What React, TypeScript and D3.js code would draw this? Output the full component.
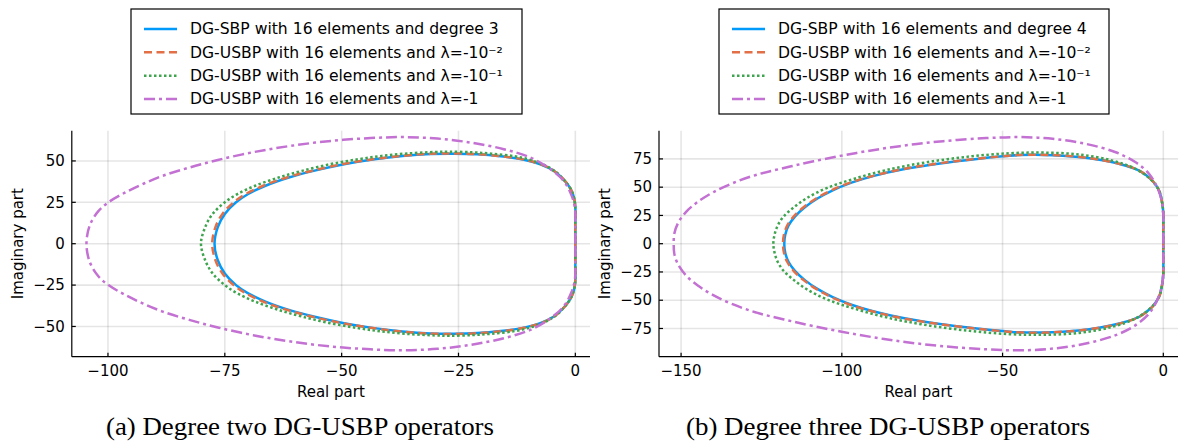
import React from "react";
import * as d3 from "d3";

type Pt = [number, number];

// legend labels
const leftLabels = [
  "DG-SBP with 16 elements and degree 3",
  "DG-USBP with 16 elements and λ=-10⁻²",
  "DG-USBP with 16 elements and λ=-10⁻¹",
  "DG-USBP with 16 elements and λ=-1",
];
const rightLabels = [
  "DG-SBP with 16 elements and degree 4",
  "DG-USBP with 16 elements and λ=-10⁻²",
  "DG-USBP with 16 elements and λ=-10⁻¹",
  "DG-USBP with 16 elements and λ=-1",
];

const leftXTicks = [-100, -75, -50, -25, 0];
const leftYTicks = [-50, -25, 0, 25, 50];
const rightXTicks = [-150, -100, -50, 0];
const rightYTicks = [-75, -50, -25, 0, 25, 50, 75];

const leftSbp: Pt[] = [
  [0, 0], [0, 12], [0, 22], [-0.3, 28], [-1.1, 33.5], [-2.6, 39], [-4.6, 44], [-7.5, 48], [-11.5, 51], [-16, 52.8],
  [-21, 54], [-26, 54.4], [-31, 54.2], [-37, 53], [-43, 51], [-49.5, 48], [-56, 44], [-61.3, 40], [-66.3, 35],
  [-70, 30], [-72.6, 25], [-75, 18], [-76.5, 10], [-77.2, 0],
  [-76.5, -10], [-75, -18], [-72.6, -25], [-70, -30], [-66.3, -35], [-61.3, -40], [-56, -44], [-49.5, -48],
  [-43, -51], [-37, -53], [-31, -54.2], [-26, -54.4], [-21, -54], [-16, -52.8], [-11.5, -51], [-7.5, -48],
  [-4.6, -44], [-2.6, -39], [-1.1, -33.5], [-0.3, -28], [0, -22], [0, -12], [0, 0],
];
const leftUsbp2: Pt[] = [
  [0, 0], [0, 12], [0, 22], [-0.3, 28], [-1.1, 33.6], [-2.6, 39.1], [-4.6, 44.1], [-7.5, 48.1], [-11.5, 51.1], [-16, 52.9],
  [-21, 54.1], [-26, 54.5], [-31, 54.3], [-37, 53.1], [-43, 51.1], [-49.7, 48.1], [-56.3, 44.1], [-61.7, 40],
  [-66.8, 35], [-70.5, 30], [-73.1, 25], [-75.5, 18], [-77, 10], [-77.7, 0],
  [-77, -10], [-75.5, -18], [-73.1, -25], [-70.5, -30], [-66.8, -35], [-61.7, -40], [-56.3, -44.1], [-49.7, -48.1],
  [-43, -51.1], [-37, -53.1], [-31, -54.3], [-26, -54.5], [-21, -54.1], [-16, -52.9], [-11.5, -51.1], [-7.5, -48.1],
  [-4.6, -44.1], [-2.6, -39.1], [-1.1, -33.6], [-0.3, -28], [0, -22], [0, -12], [0, 0],
];
const leftUsbp1: Pt[] = [
  [0, 0], [0, 12], [0, 22], [-0.3, 28], [-1.1, 33.6], [-2.6, 39], [-4, 43], [-6.3, 47], [-9.5, 50.5], [-13, 52.8],
  [-18, 54.4], [-22, 55.2], [-27, 55.6], [-30, 55.4], [-36, 54.5], [-41.5, 53], [-46.5, 51], [-52.5, 48], [-58.5, 44],
  [-63.5, 40], [-68.5, 35], [-72.3, 30], [-75, 25], [-77.6, 18], [-79.2, 10], [-80.1, 0],
  [-79.2, -10], [-77.6, -18], [-75, -25], [-72.3, -30], [-68.5, -35], [-63.5, -40], [-58.5, -44], [-52.5, -48],
  [-46.5, -51], [-41.5, -53], [-36, -54.5], [-30, -55.4], [-27, -55.6], [-22, -55.2], [-18, -54.4], [-13, -52.8],
  [-9.5, -50.5], [-6.3, -47], [-4, -43], [-2.6, -39], [-1.1, -33.6], [-0.3, -28], [0, -22], [0, -12], [0, 0],
];
const leftUsbp0: Pt[] = [
  [0, 0], [0, 10], [-0.1, 21.8], [-0.9, 29.8], [-2.5, 37.9], [-5.3, 45], [-9.6, 52], [-15.3, 57.1], [-22.4, 61.1],
  [-29.5, 63.5], [-36.7, 64.4], [-43.8, 63.8], [-52.3, 62.1], [-60.9, 59.1], [-68.7, 55.4], [-76.5, 50.6], [-82.6, 46],
  [-88.3, 41], [-92.6, 36], [-96.4, 30.8], [-99.9, 25], [-102.1, 19.5], [-103.9, 11], [-104.6, 0],
  [-103.9, -11], [-102.1, -19.5], [-99.9, -25], [-96.4, -30.8], [-92.6, -36], [-88.3, -41], [-82.6, -46], [-76.5, -50.6],
  [-68.7, -55.4], [-60.9, -59.1], [-52.3, -62.1], [-43.8, -63.8], [-36.7, -64.4], [-29.5, -63.5], [-22.4, -61.1],
  [-15.3, -57.1], [-9.6, -52], [-5.3, -45], [-2.5, -37.9], [-0.9, -29.8], [-0.1, -21.8], [0, -10], [0, 0],
];

// degree three
const rightSbp: Pt[] = [
  [0, 0], [0, 12], [0, 26], [-0.3, 35], [-1.3, 46.8], [-3.4, 55.7], [-7.5, 64.6], [-13.7, 70.6], [-23, 75.6],
  [-34.4, 78.3], [-44.8, 78.4], [-49, 77.5], [-58, 75], [-69.5, 71], [-80.5, 66], [-90, 60], [-97, 54], [-103, 47],
  [-107.6, 40], [-111.6, 32], [-114.6, 24], [-116.6, 16], [-117.6, 8], [-117.9, 0],
  [-117.6, -8], [-116.6, -16], [-114.6, -24], [-111.6, -32], [-107.6, -40], [-103, -47], [-97, -54], [-90, -60],
  [-80.5, -66], [-69.5, -71], [-58, -75], [-49, -77.5], [-44.8, -78.4], [-34.4, -78.3], [-23, -75.6], [-13.7, -70.6],
  [-7.5, -64.6], [-3.4, -55.7], [-1.3, -46.8], [-0.3, -35], [0, -26], [0, -12], [0, 0],
];
const rightUsbp2: Pt[] = [
  [0, 0], [0, 12], [0, 26], [-0.3, 35], [-1.3, 46.9], [-3.4, 55.8], [-7.5, 64.7], [-13.7, 70.7], [-23, 75.7],
  [-34.4, 78.4], [-44.8, 78.5], [-49, 77.6], [-58.1, 75.1], [-69.7, 71.1], [-80.8, 66.1], [-90.3, 60], [-97.4, 54],
  [-103.4, 47], [-108, 40], [-112, 32], [-115, 24], [-117, 16], [-118, 8], [-118.3, 0],
  [-118, -8], [-117, -16], [-115, -24], [-112, -32], [-108, -40], [-103.4, -47], [-97.4, -54], [-90.3, -60],
  [-80.8, -66.1], [-69.7, -71.1], [-58.1, -75.1], [-49, -77.6], [-44.8, -78.5], [-34.4, -78.4], [-23, -75.7],
  [-13.7, -70.7], [-7.5, -64.7], [-3.4, -55.8], [-1.3, -46.9], [-0.3, -35], [0, -26], [0, -12], [0, 0],
];
const rightUsbp1: Pt[] = [
  [0, 0], [0, 12], [0, 26], [-0.3, 35], [-1.3, 46.8], [-3.6, 56], [-8.6, 66.1], [-15.8, 73.5], [-26.2, 78.9],
  [-37.5, 80.6], [-47.9, 80], [-60.3, 77.1], [-73.7, 72], [-86.1, 65.2], [-96.4, 57.2], [-104.7, 49.2], [-110.9, 40.3],
  [-115, 32], [-118.2, 23.7], [-120, 15.7], [-120.9, 8.3], [-121.3, 0],
  [-120.9, -8.3], [-120, -15.7], [-118.2, -23.7], [-115, -32], [-110.9, -40.3], [-104.7, -49.2], [-96.4, -57.2],
  [-86.1, -65.2], [-73.7, -72], [-60.3, -77.1], [-47.9, -80], [-37.5, -80.6], [-26.2, -78.9], [-15.8, -73.5],
  [-8.6, -66.1], [-3.6, -56], [-1.3, -46.8], [-0.3, -35], [0, -26], [0, -12], [0, 0],
];
const rightUsbp0: Pt[] = [
  [0, 0], [0, 12], [0, 26], [-0.5, 37.9], [-1.9, 49.8], [-4.4, 61.7], [-8.6, 72], [-14.8, 80.9], [-24.1, 88.3],
  [-34.4, 92.8], [-44.8, 94.3], [-55.1, 93.4], [-68.5, 90.7], [-82, 86.3], [-95.4, 80.3], [-108.8, 72.9], [-118, 67],
  [-126.5, 61], [-134, 53.5], [-140, 45.5], [-144.8, 37], [-148.5, 28], [-151, 18], [-152.1, 9], [-152.3, 0],
  [-152.1, -9], [-151, -18], [-148.5, -28], [-144.8, -37], [-140, -45.5], [-134, -53.5], [-126.5, -61], [-118, -67],
  [-108.8, -72.9], [-95.4, -80.3], [-82, -86.3], [-68.5, -90.7], [-55.1, -93.4], [-44.8, -94.3], [-34.4, -92.8],
  [-24.1, -88.3], [-14.8, -80.9], [-8.6, -72], [-4.4, -61.7], [-1.9, -49.8], [-0.5, -37.9], [0, -26], [0, -12], [0, 0],
];

const colors = ["#009AFA", "#E36F47", "#3EA44E", "#C371D2"];
const dashes = ["none", "8 4.5", "2.5 2.5", "11 4 3 4"];

const fmt = (v: number) => (v < 0 ? "\u2212" + Math.abs(v) : String(v));

const TOP = 130.7;
const BOTTOM = 356.7;

type PanelProps = {
  series: Pt[][];
  labels: string[];
  xTicks: number[];
  yTicks: number[];
  xRange: [number, number];
  legendX: number;
  legendW: number;
  caption: string;
  captionX: number;
  captionW: number;
};

function Panel(p: PanelProps) {
  const all = p.series.flat();
  const [xmin, xmax] = d3.extent(all, (d) => d[0]) as [number, number];
  const [ymin, ymax] = d3.extent(all, (d) => d[1]) as [number, number];
  const px = (xmax - xmin) * 0.03;
  const py = (ymax - ymin) * 0.03;
  const x = d3.scaleLinear().domain([xmin - px, xmax + px]).range(p.xRange);
  const y = d3.scaleLinear().domain([ymin - py, ymax + py]).range([BOTTOM, TOP]);
  const line = d3
    .line<Pt>()
    .x((d) => x(d[0]))
    .y((d) => y(d[1]))
    .curve(d3.curveCatmullRom.alpha(0.5));
  const [x0, x1] = p.xRange;
  const font = "DejaVu Sans, sans-serif";
  const rows = [29, 52.3, 75.7, 99];

  return (
    <g>
      {/* grid */}
      {p.xTicks.map((t) => (
        <line key={"gx" + t} x1={x(t)} x2={x(t)} y1={TOP} y2={BOTTOM} stroke="#000" strokeOpacity={0.1} strokeWidth={1.6} />
      ))}
      {p.yTicks.map((t) => (
        <line key={"gy" + t} x1={x0} x2={x1} y1={y(t)} y2={y(t)} stroke="#000" strokeOpacity={0.1} strokeWidth={1.6} />
      ))}
      {/* series */}
      {p.series.map((s, i) => (
        <path
          key={"s" + i}
          d={line(s) || ""}
          fill="none"
          stroke={colors[i]}
          strokeWidth={2.5}
          strokeDasharray={dashes[i]}
        />
      ))}
      {/* axes */}
      <line x1={x0} x2={x0} y1={TOP} y2={BOTTOM} stroke="#000" strokeWidth={1.2} />
      <line x1={x0} x2={x1} y1={BOTTOM} y2={BOTTOM} stroke="#000" strokeWidth={1.2} />
      {p.xTicks.map((t) => (
        <g key={"tx" + t}>
          <line x1={x(t)} x2={x(t)} y1={BOTTOM} y2={BOTTOM - 4} stroke="#000" strokeWidth={1.2} />
          <text x={x(t)} y={370.5} dy="0.35em" textAnchor="middle" fontFamily={font} fontSize={15}>
            {fmt(t)}
          </text>
        </g>
      ))}
      {p.yTicks.map((t) => (
        <g key={"ty" + t}>
          <line x1={x0} x2={x0 + 4} y1={y(t)} y2={y(t)} stroke="#000" strokeWidth={1.2} />
          <text x={x0 - 7} y={y(t)} dy="0.35em" textAnchor="end" fontFamily={font} fontSize={15}>
            {fmt(t)}
          </text>
        </g>
      ))}
      <text x={(x0 + x1) / 2} y={392} dy="0.35em" textAnchor="middle" fontFamily={font} fontSize={15}>
        Real part
      </text>
      <text
        transform={`translate(${x0 - 54},${(TOP + BOTTOM) / 2}) rotate(-90)`}
        dy="0.35em"
        textAnchor="middle"
        fontFamily={font}
        fontSize={15}
      >
        Imaginary part
      </text>
      {/* legend */}
      <rect x={p.legendX} y={9} width={p.legendW} height={105} fill="#fff" stroke="#000" strokeWidth={1.2} />
      {p.labels.map((lab, i) => (
        <g key={"l" + i}>
          <line
            x1={p.legendX + 13}
            x2={p.legendX + 46}
            y1={rows[i]}
            y2={rows[i]}
            stroke={colors[i]}
            strokeWidth={2.5}
            strokeDasharray={dashes[i]}
          />
          <text x={p.legendX + 59} y={rows[i]} dy="0.35em" fontFamily={font} fontSize={15.6}>
            {lab}
          </text>
        </g>
      ))}
      {/* caption */}
      <text
        x={p.captionX}
        y={435}
        fontFamily="Liberation Serif, serif"
        fontSize={24.5}
        textLength={p.captionW}
        lengthAdjust="spacingAndGlyphs"
      >
        {p.caption}
      </text>
    </g>
  );
}

export default function App() {
  return (
    <svg width={1179} height={443} style={{ position: "absolute", left: 0, top: 0, background: "#fff" }}>
      <rect width={1179} height={443} fill="#fff" />
      <Panel
        series={[leftSbp, leftUsbp2, leftUsbp1, leftUsbp0]}
        labels={leftLabels}
        xTicks={leftXTicks}
        yTicks={leftYTicks}
        xRange={[71.8, 590]}
        legendX={131}
        legendW={391}
        caption="(a) Degree two DG-USBP operators"
        captionX={106}
        captionW={388}
      />
      <Panel
        series={[rightSbp, rightUsbp2, rightUsbp1, rightUsbp0]}
        labels={rightLabels}
        xTicks={rightXTicks}
        yTicks={rightYTicks}
        xRange={[659, 1178]}
        legendX={719}
        legendW={390}
        caption="(b) Degree three DG-USBP operators"
        captionX={686}
        captionW={404}
      />
    </svg>
  );
}
